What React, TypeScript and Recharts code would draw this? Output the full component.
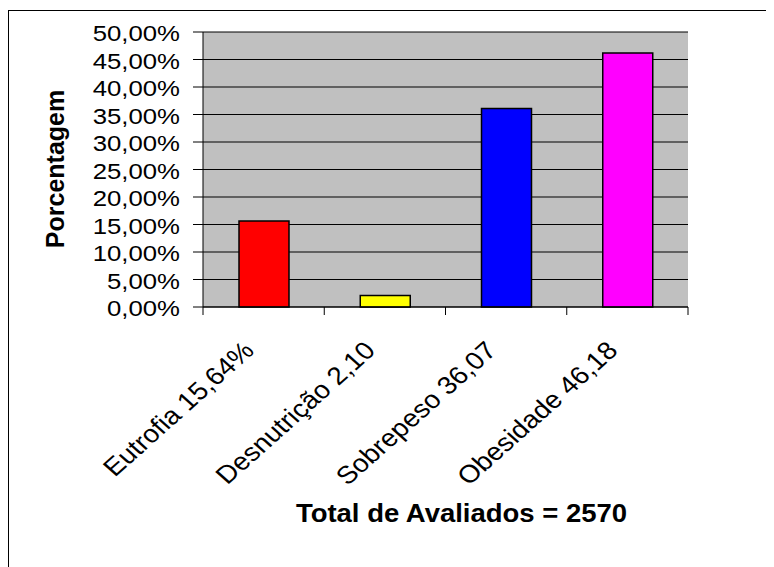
import { BarChart, Bar, XAxis, YAxis, CartesianGrid, Cell, Label } from 'recharts'

const categories = ['Eutrofia 15,64%', 'Desnutrição 2,10', 'Sobrepeso 36,07', 'Obesidade 46,18']
const values = [15.64, 2.1, 36.07, 46.18]
const colors = ['#FF0000', '#FFFF00', '#0000FF', '#FF00FF']
const yTicks = [0, 5, 10, 15, 20, 25, 30, 35, 40, 45, 50]
const yTitle = 'Porcentagem'
const xTitle = 'Total de Avaliados = 2570'

const data = categories.map((name, i) => ({ name, value: values[i] }))

const W = 766
const H = 559
const PLOT_LEFT = 195
const PLOT_RIGHT = 680
const BAND = (PLOT_RIGHT - PLOT_LEFT) / categories.length
const FONT = '"Liberation Sans", Arial, sans-serif'
const SX = 1.12 // the original picture is a bit stretched sideways

const fmtPct = (v: number) => v.toFixed(2).replace('.', ',') + '%'

function YTick({ x, y, payload }: any) {
  return (
    <text
      transform={`translate(${x},${y + 9}) scale(${SX},1)`}
      textAnchor="end"
      fontSize={23}
      fontFamily={FONT}
      fill="#000"
    >
      {fmtPct(payload.value)}
    </text>
  )
}

function XTick({ x, y, payload, index }: any) {
  const left = x - BAND / 2
  const last = index === categories.length - 1
  return (
    <g>
      <line x1={left} x2={left} y1={y} y2={y + 8} stroke="#000" />
      {last && <line x1={x + BAND / 2} x2={x + BAND / 2} y1={y} y2={y + 8} stroke="#000" />}
      <text
        transform={`translate(${x - 8},${y + 45}) scale(${SX},1) rotate(-45)`}
        textAnchor="end"
        fontSize={25}
        fontFamily={FONT}
        fill="#000"
      >
        {payload.value}
      </text>
    </g>
  )
}

export default function App() {
  return (
    <div style={{ position: 'relative', width: W, height: H }}>
      <div
        style={{
          position: 'absolute',
          top: 2,
          left: 0,
          right: 0,
          bottom: 0,
          borderLeft: '1px solid #000',
          borderTop: '1px solid #000',
        }}
      />
      <div style={{ position: 'absolute', top: 0, left: 0 }}>
        <BarChart
          width={W}
          height={H}
          data={data}
          margin={{ top: 24, right: W - PLOT_RIGHT, left: 0, bottom: 60 }}
          barSize={50}
        >
          <CartesianGrid vertical={false} fill="#C0C0C0" stroke="#000" fillOpacity={1} />
          <XAxis
            xAxisId="top"
            orientation="top"
            dataKey="name"
            height={0}
            tick={false}
            tickLine={false}
            axisLine={{ stroke: '#808080', strokeWidth: 2 }}
          />
          <YAxis
            yAxisId="right"
            orientation="right"
            width={0}
            domain={[0, 50]}
            tick={false}
            tickLine={false}
            axisLine={{ stroke: '#808080', strokeWidth: 2 }}
          />
          <XAxis
            dataKey="name"
            height={200}
            interval={0}
            tickLine={false}
            tickSize={0}
            tickMargin={0}
            axisLine={{ stroke: '#000' }}
            tick={<XTick />}
          >
            <Label
              content={() => (
                <text
                  transform={`translate(${(PLOT_LEFT + PLOT_RIGHT) / 2 + 16},514) scale(1.1,1)`}
                  textAnchor="middle"
                  fontSize={25}
                  fontWeight="bold"
                  fontFamily={FONT}
                  fill="#000"
                >
                  {xTitle}
                </text>
              )}
            />
          </XAxis>
          <YAxis
            width={PLOT_LEFT}
            domain={[0, 50]}
            ticks={yTicks}
            interval={0}
            tickSize={10}
            tickMargin={13}
            tickLine={{ stroke: '#000' }}
            axisLine={{ stroke: '#000' }}
            tick={<YTick />}
          >
            <Label
              content={() => (
                <text
                  transform="translate(56,161) rotate(-90)"
                  textAnchor="middle"
                  fontSize={25}
                  fontWeight="bold"
                  fontFamily={FONT}
                  fill="#000"
                >
                  {yTitle}
                </text>
              )}
            />
          </YAxis>
          <Bar dataKey="value" stroke="#000" strokeWidth={1.5} isAnimationActive={false}>
            {data.map((_, i) => (
              <Cell key={i} fill={colors[i]} />
            ))}
          </Bar>
        </BarChart>
      </div>
    </div>
  )
}
